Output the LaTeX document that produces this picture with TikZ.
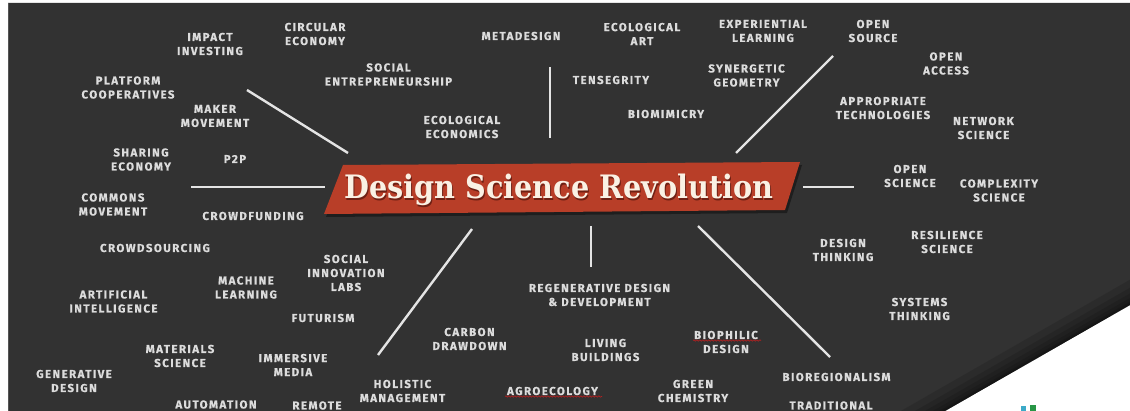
\documentclass[tikz,border=0pt]{standalone}
\usepackage{fontspec}
\usepackage{graphicx}
\usetikzlibrary{decorations.pathmorphing}
\newfontfamily\lblfont{Fira Sans}[LetterSpace=12.5, BoldFeatures={FakeBold=0.4}]
\newfontfamily\bannerfont{DejaVu Serif}
\definecolor{bgdark}{RGB}{50,50,50}
\definecolor{bgedge}{RGB}{85,85,85}
\definecolor{lblgray}{RGB}{220,220,220}
\definecolor{spoke}{RGB}{228,228,228}
\definecolor{bannerred}{RGB}{184,62,40}
\definecolor{bannershade}{RGB}{110,32,20}
\definecolor{cream}{RGB}{250,241,228}
\definecolor{squig}{RGB}{175,32,32}
\definecolor{logoteal}{RGB}{60,170,200}
\definecolor{logogreen}{RGB}{40,150,70}
\newcommand{\dsrtitle}{\resizebox{429pt}{24.5pt}{\bannerfont\bfseries\fontsize{31.5}{36}\selectfont Design Science Revolution}}
\tikzset{
  lbl/.style={align=center, inner sep=0pt, text=lblgray, font=\lblfont\bfseries\fontsize{11.5}{14}\selectfont},
  spokeline/.style={draw=spoke, line width=2.4pt},
  squiggle/.style={draw=squig, line width=0.7pt, decorate, decoration={snake, amplitude=0.7pt, segment length=3pt}},
}
\begin{document}
\begin{tikzpicture}[x=1pt,y=-1pt]
\useasboundingbox (0,0) rectangle (1130,411);
\fill[white] (0,0) rectangle (1130,411);
\fill[bgdark] (8,3) -- (1130,3) -- (1130,305) -- (945,411) -- (8,411) -- cycle;
\draw[bgedge, line width=1pt] (8.5,3) -- (8.5,411);
\begin{scope}
  \clip (8,3) -- (1130,3) -- (1130,305) -- (945,411) -- (8,411) -- cycle;
  \foreach \w in {44,30,20,12,6,3}
    \draw[black, opacity=0.12, line width=\w pt] (1167,283.8) -- (908,432.2);
\end{scope}
% tiny logo fragments
\fill[logoteal] (1021,406) rectangle (1026,411);
\fill[logogreen] (1030,405) rectangle (1036,411);

% spokes
\coordinate (s1a) at (247,90);  \coordinate (s1b) at (348,153);
\coordinate (s2a) at (191,187); \coordinate (s2b) at (325,187);
\coordinate (s3a) at (550,67);  \coordinate (s3b) at (550,138);
\coordinate (s4a) at (736,153); \coordinate (s4b) at (833,56);
\coordinate (s5a) at (803,187); \coordinate (s5b) at (854,187);
\coordinate (s6a) at (472,229); \coordinate (s6b) at (378,355);
\coordinate (s7a) at (591,226); \coordinate (s7b) at (591,267);
\coordinate (s8a) at (698,226); \coordinate (s8b) at (830,357);
\foreach \i in {1,...,8} \draw[spokeline] (s\i a) -- (s\i b);

% banner
\fill[black, opacity=0.4] (326,217) -- (345,168) -- (802,165) -- (787,213) -- cycle;
\fill[bannerred] (324,214) -- (343,165) -- (800,162) -- (785,210) -- cycle;
\node[anchor=base west, inner sep=0pt, text=bannershade] (titleshadow) at (345,200.2) {\dsrtitle};
\node[anchor=base west, inner sep=0pt, text=cream] (title) at (344,199) {\dsrtitle};

% labels
\node[lbl] (impact) at (210,44) {IMPACT\\INVESTING};
\node[lbl] (circular) at (315,34) {CIRCULAR\\ECONOMY};
\node[lbl] (platform) at (128,87.5) {PLATFORM\\COOPERATIVES};
\node[lbl] (maker) at (215,116) {MAKER\\MOVEMENT};
\node[lbl] (sharing) at (141,159.5) {SHARING\\ECONOMY};
\node[lbl] (p2p) at (235,159) {P2P};
\node[lbl] (commons) at (113,204.5) {COMMONS\\MOVEMENT};
\node[lbl] (socent) at (388.5,74.5) {SOCIAL\\ENTREPRENEURSHIP};
\node[lbl] (metadesign) at (521,36) {METADESIGN};
\node[lbl] (ecoart) at (642,34) {ECOLOGICAL\\ART};
\node[lbl] (tensegrity) at (611,80) {TENSEGRITY};
\node[lbl] (ecoecon) at (462,127) {ECOLOGICAL\\ECONOMICS};
\node[lbl] (biomimicry) at (666,114) {BIOMIMICRY};
\node[lbl] (experiential) at (763,31) {EXPERIENTIAL\\LEARNING};
\node[lbl] (synergetic) at (746.5,75.5) {SYNERGETIC\\GEOMETRY};
\node[lbl] (opensource) at (873,31) {OPEN\\SOURCE};
\node[lbl] (openaccess) at (946,63.5) {OPEN\\ACCESS};
\node[lbl] (approp) at (883,108) {APPROPRIATE\\TECHNOLOGIES};
\node[lbl] (network) at (983.5,128) {NETWORK\\SCIENCE};
\node[lbl] (openscience) at (910,176) {OPEN\\SCIENCE};
\node[lbl] (complexity) at (999,190.5) {COMPLEXITY\\SCIENCE};
\node[lbl] (crowdfunding) at (253,216) {CROWDFUNDING};
\node[lbl] (crowdsourcing) at (155,248) {CROWDSOURCING};
\node[lbl] (socinnov) at (346,273) {SOCIAL\\INNOVATION\\LABS};
\node[lbl] (machine) at (246,287.5) {MACHINE\\LEARNING};
\node[lbl] (ai) at (113.5,301.5) {ARTIFICIAL\\INTELLIGENCE};
\node[lbl] (futurism) at (323,318) {FUTURISM};
\node[lbl] (materials) at (180,356) {MATERIALS\\SCIENCE};
\node[lbl] (immersive) at (293,365) {IMMERSIVE\\MEDIA};
\node[lbl] (generative) at (74,381) {GENERATIVE\\DESIGN};
\node[lbl] (automation) at (216,404.5) {AUTOMATION};
\node[lbl] (remote) at (317,405.5) {REMOTE};
\node[lbl] (holistic) at (402.5,391) {HOLISTIC\\MANAGEMENT};
\node[lbl] (regen) at (599.5,295) {REGENERATIVE DESIGN\\\& DEVELOPMENT};
\node[lbl] (carbon) at (469.5,339) {CARBON\\DRAWDOWN};
\node[lbl] (living) at (605.5,350) {LIVING\\BUILDINGS};
\node[lbl] (biophilic) at (726,342) {BIOPHILIC\\DESIGN};
\node[lbl] (agroecology) at (552.5,391) {AGROECOLOGY};
\node[lbl] (green) at (693,391) {GREEN\\CHEMISTRY};
\node[lbl] (designthinking) at (843,250) {DESIGN\\THINKING};
\node[lbl] (resilience) at (947,242) {RESILIENCE\\SCIENCE};
\node[lbl] (systems) at (919.5,309) {SYSTEMS\\THINKING};
\node[lbl] (bioregionalism) at (836.5,377) {BIOREGIONALISM};
\node[lbl] (traditional) at (831,405.5) {TRADITIONAL};

% spell-check squiggles
\coordinate (q1a) at (693,340.5); \coordinate (q1b) at (761,340.5);
\coordinate (q2a) at (505,396.5); \coordinate (q2b) at (602,396.5);
\draw[squiggle] (q1a) -- (q1b);
\draw[squiggle] (q2a) -- (q2b);
\end{tikzpicture}
\end{document}
